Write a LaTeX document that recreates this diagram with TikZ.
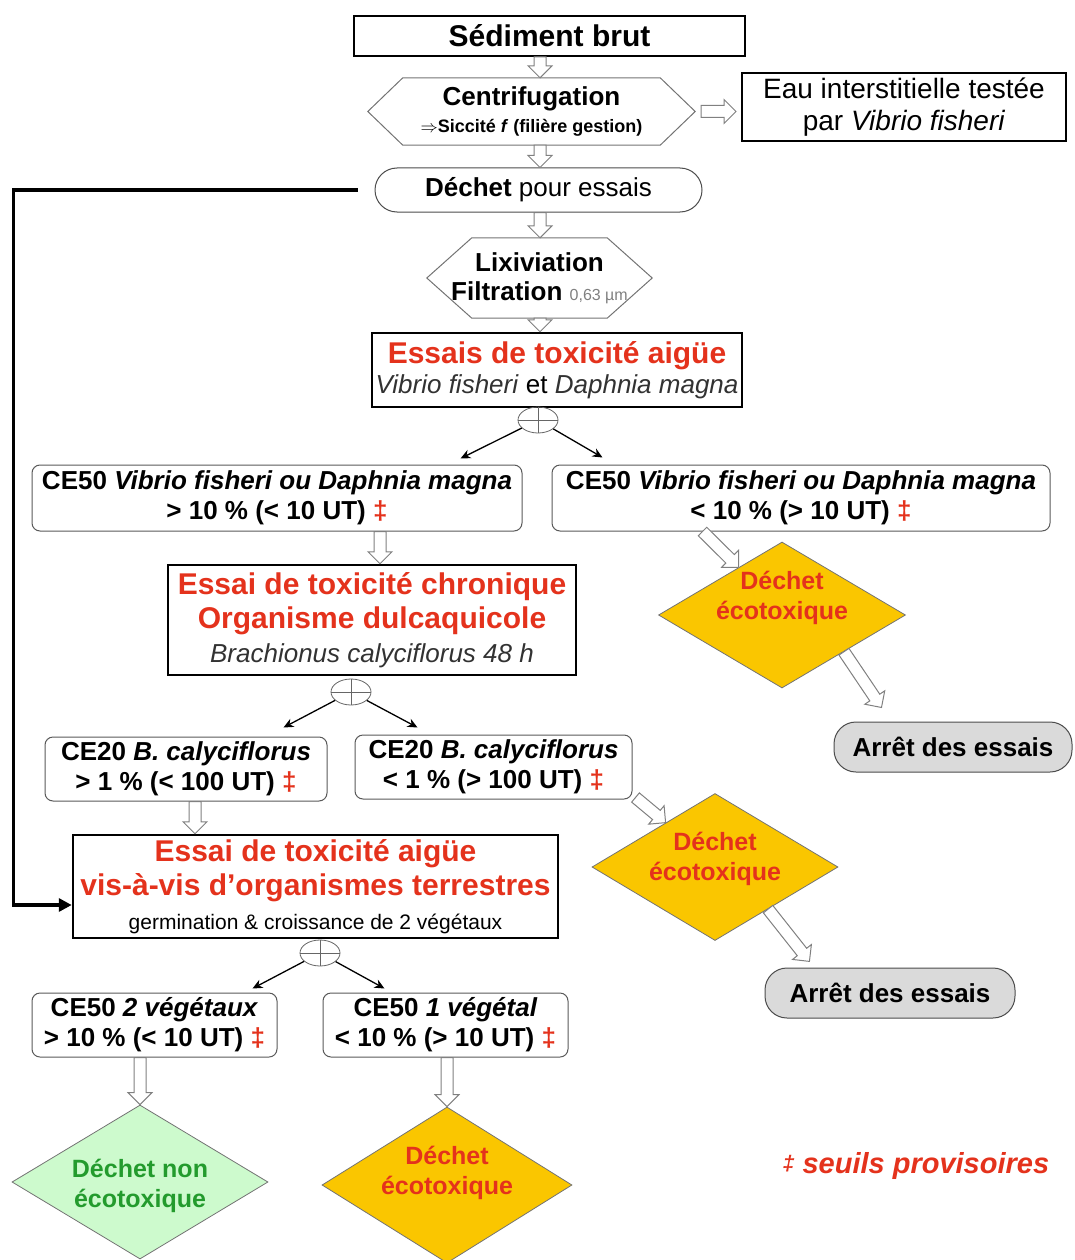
\documentclass[tikz,border=0pt]{standalone}
\usepackage{fontspec}
\setmainfont{Liberation Sans}
\usetikzlibrary{calc,shapes.geometric,arrows.meta}
\definecolor{redt}{RGB}{228,50,28}
\definecolor{gold}{RGB}{250,198,0}
\definecolor{lgreen}{RGB}{205,250,205}
\definecolor{dgreen}{RGB}{35,155,45}
\definecolor{lgrey}{RGB}{218,218,218}
\definecolor{spec}{RGB}{50,50,50}
\newcommand\dg{{\color{redt}‡}}
\newcommand\harr[2]{%
  \path let \p1=(#1), \p2=(#2), \n1={atan2(\y2-\y1,\x2-\x1)}, \n2={veclen(\x2-\x1,\y2-\y1)} in
    \pgfextra{\xdef\harrang{\n1}\xdef\harrlen{\n2}} (\p1) coordinate (harrS);
  \draw[hollow, shift={(harrS)}, rotate=\harrang]
    (0pt,-6pt) -- ({\harrlen-12pt},-6pt) -- ({\harrlen-12pt},-12pt) -- (\harrlen,0pt)
    -- ({\harrlen-12pt},12pt) -- ({\harrlen-12pt},6pt) -- (0pt,6pt) -- cycle;}
\begin{document}
\begin{tikzpicture}[x=1pt,y=-1pt,
  base/.style={inner sep=0pt, align=center, text=black},
  blk/.style={base, draw=black, line width=2pt},
  rbox/.style={base, draw=black!65, line width=1pt, rounded corners=8pt},
  hexline/.style={draw=black!55, line width=1pt},
  stad/.style={base, draw=black!70, line width=1pt, rounded corners=22pt},
  orr/.style={ellipse, draw=black!60, line width=0.8pt, minimum width=40pt, minimum height=26pt, inner sep=0pt},
  orrline/.style={draw=black!60, line width=0.8pt},
  splitarrow/.style={-{Stealth[length=10pt,width=9pt]}, line width=1.3pt, black},
  hollow/.style={draw=black!50, fill=white, line width=1pt, line join=miter},
  diam/.style={diamond, draw=black!55, line width=0.8pt, inner sep=0pt},
  dtext/.style={base, font=\fontsize{25}{30}\selectfont\bfseries},
  cefont/.style={font=\fontsize{26}{30}\selectfont\bfseries}
]
\useasboundingbox (0,0) rectangle (1074,1260);
\coordinate (ax) at (540,0);
\coordinate (ax2) at (380,0);
\coordinate (ax3) at (195,0);

% top chain
\node[blk, minimum width=391pt, minimum height=40pt, font=\fontsize{30}{34}\selectfont\bfseries] (sed) at (549.5,36) {Sédiment brut};

\node[base, minimum width=327pt, minimum height=67pt, font=\fontsize{26}{28}\selectfont\bfseries] (cent) at (531.5,111.5)
  {Centrifugation\\[-1pt]{\fontsize{18}{20}\selectfont$\Rightarrow$Siccité \textit{f} (filière gestion)}};
\draw[hexline] (cent.west) -- ([xshift=35pt]cent.north west) -- ([xshift=-35pt]cent.north east) -- (cent.east)
  -- ([xshift=-35pt]cent.south east) -- ([xshift=35pt]cent.south west) -- cycle;

\node[blk, minimum width=324pt, minimum height=68pt, font=\fontsize{28}{31}\selectfont] (eau) at (904,107)
  {Eau interstitielle testée\\[1pt]par \textit{Vibrio fisheri}};

\node[stad, minimum width=327pt, minimum height=44pt, font=\fontsize{26}{30}\selectfont] (dech) at (538.5,190)
  {\textbf{Déchet} pour essais};

\node[base, minimum width=225pt, minimum height=80pt, font=\fontsize{26}{29}\selectfont\bfseries] (lix) at (539.5,278)
  {Lixiviation\\Filtration {\mdseries\fontsize{16}{18}\selectfont\color{black!50}0,63 µm}};
\draw[hexline] (lix.west) -- ([xshift=45pt]lix.north west) -- ([xshift=-45pt]lix.north east) -- (lix.east)
  -- ([xshift=-45pt]lix.south east) -- ([xshift=45pt]lix.south west) -- cycle;

\node[blk, line width=2.5pt, minimum width=370pt, minimum height=74pt, font=\fontsize{26}{30}\selectfont] (aigu) at (557,370)
  {{\fontsize{30}{34}\selectfont\bfseries\color{redt}Essais de toxicité aigüe}\\{\color{spec}\textit{Vibrio fisheri}} et {\color{spec}\textit{Daphnia magna}}};

% first split
\node[orr] (or1) at (538,420) {};
\draw[orrline] (or1.north) -- (or1.south) (or1.west) -- (or1.east);

\node[rbox, cefont, minimum width=490pt, minimum height=66pt] (ce50l) at (277,498)
  {CE50 \textit{Vibrio fisheri ou Daphnia magna}\\> 10 \% (< 10 UT) \dg};
\node[rbox, cefont, minimum width=498pt, minimum height=66pt] (ce50r) at (801,498)
  {CE50 \textit{Vibrio fisheri ou Daphnia magna}\\< 10 \% (> 10 UT) \dg};
\draw[splitarrow] (or1) -- ($(ce50l.north east)+(-62,-6)$);
\draw[splitarrow] (or1) -- ($(ce50r.north west)+(51,-7)$);

% chronic
\node[blk, line width=2.5pt, minimum width=408pt, minimum height=110pt, font=\fontsize{26}{34}\selectfont] (chro) at (372,620)
  {{\fontsize{30}{34}\selectfont\bfseries\color{redt}Essai de toxicité chronique}\\{\fontsize{30}{34}\selectfont\bfseries\color{redt}Organisme dulcaquicole}\\{\color{spec}\itshape Brachionus calyciflorus 48 h}};

\node[orr] (or2) at (351,692) {};
\draw[orrline] (or2.north) -- (or2.south) (or2.west) -- (or2.east);

\node[rbox, cefont, minimum width=282pt, minimum height=64pt] (ce20l) at (186,769)
  {CE20 \textit{B. calyciflorus}\\> 1 \% (< 100 UT) \dg};
\node[rbox, cefont, minimum width=277pt, minimum height=64pt] (ce20r) at (493.5,767)
  {CE20 \textit{B. calyciflorus}\\< 1 \% (> 100 UT) \dg};
\draw[splitarrow] (or2) -- ($(ce20l.north east)+(-44,-9)$);
\draw[splitarrow] (or2) -- ($(ce20r.north west)+(63,-7)$);

% terrestrial
\node[blk, line width=2.5pt, minimum width=485pt, minimum height=103pt, font=\fontsize{30}{34}\selectfont\bfseries] (terr) at (315.5,886.5)
  {{\color{redt}Essai de toxicité aigüe}\\{\color{redt}vis-à-vis d’organismes terrestres}\\{\mdseries\fontsize{21}{24}\selectfont germination \& croissance de 2 végétaux}};

\node[orr] (or3) at (320,953) {};
\draw[orrline] (or3.north) -- (or3.south) (or3.west) -- (or3.east);

\node[rbox, cefont, minimum width=245pt, minimum height=64pt] (ce50a) at (154.5,1025)
  {CE50 \textit{2 végétaux}\\> 10 \% (< 10 UT) \dg};
\node[rbox, cefont, minimum width=245pt, minimum height=64pt] (ce50b) at (445.5,1025)
  {CE50 \textit{1 végétal}\\< 10 \% (> 10 UT) \dg};
\draw[splitarrow] (or3) -- ($(ce50a.north east)+(-25,-4)$);
\draw[splitarrow] (or3) -- ($(ce50b.north west)+(62,-4)$);

% outcomes
\node[diam, fill=gold, minimum width=247pt, minimum height=146pt] (d1) at (782,615) {};
\node[dtext, text=redt] (d1t) at (782,598) {Déchet\\écotoxique};
\node[stad, fill=lgrey, minimum width=238pt, minimum height=50pt, font=\fontsize{26}{30}\selectfont\bfseries] (arret1) at (953,747) {Arrêt des essais};

\node[diam, fill=gold, minimum width=246pt, minimum height=147pt] (d2) at (715,867) {};
\node[dtext, text=redt] (d2t) at (715,859) {Déchet\\écotoxique};
\node[stad, fill=lgrey, minimum width=250pt, minimum height=50pt, font=\fontsize{26}{30}\selectfont\bfseries] (arret2) at (890,993) {Arrêt des essais};

\node[diam, fill=lgreen, minimum width=256pt, minimum height=154pt] (dgr) at (140,1182) {};
\node[dtext, text=dgreen] (dgrt) at (140,1186) {Déchet non\\écotoxique};
\node[diam, fill=gold, minimum width=250pt, minimum height=156pt] (d3) at (447,1185) {};
\node[dtext, text=redt] (d3t) at (447,1173) {Déchet\\écotoxique};

\node[base, text=redt, font=\fontsize{29}{32}\selectfont\bfseries\itshape] (note) at (916,1166)
  {{\fontsize{21}{21}\selectfont\raisebox{3pt}{‡}} seuils provisoires};

% thick connector
\draw[line width=3.5pt, -{Triangle[length=13pt,width=13pt]}] ([xshift=-17pt]dech.west) -- ++(-344,0) |- ([yshift=-18.5pt]terr.west);

% hollow arrows
\harr{sed.south -| ax}{cent.north -| ax}
\harr{$(cent.east)+(6,0)$}{$(eau.west |- cent.east)+(-5,0)$}
\harr{cent.south -| ax}{dech.north -| ax}
\harr{dech.south -| ax}{lix.north -| ax}
\harr{lix.south -| ax}{aigu.north -| ax}
\harr{ce50l.south -| ax2}{chro.north -| ax2}
\harr{ce20l.south -| ax3}{terr.north -| ax3}
\harr{ce50a.south -| dgr.north}{dgr.north}
\harr{ce50b.south -| d3.north}{d3.north}
\harr{$(ce50r.south west)+(151,0)$}{$(d1.north)!0.35!(d1.west)$}
\harr{$(d1.east)!0.5!(d1.south)$}{$(arret1.north west)+(48,-14)$}
\harr{$(ce20r.south east)+(3,-2)$}{$(d2.north)!0.4!(d2.west)$}
\harr{$(d2.east)!0.57!(d2.south)$}{$(arret2.north west)+(45,-6)$}
\end{tikzpicture}
\end{document}
